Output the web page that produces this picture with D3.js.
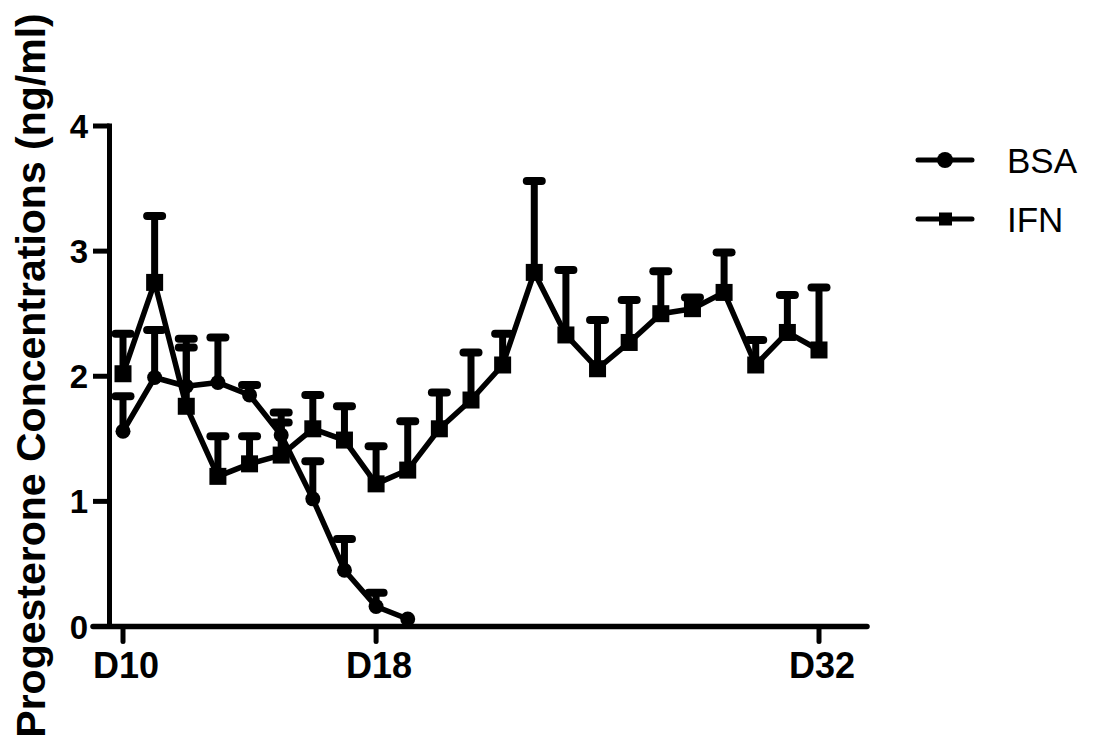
<!DOCTYPE html>
<html>
<head>
<meta charset="utf-8">
<script src="https://cdn.jsdelivr.net/npm/d3@7/dist/d3.min.js"></script>
<style>
  html, body { margin: 0; padding: 0; background: #fff; }
  svg { display: block; font-family: "Liberation Sans", Arial, sans-serif; }
</style>
</head>
<body>
<svg id="chart" width="1098" height="747"></svg>
<script>
// ---- data ----
const bsaDays  = [10, 11, 12, 13, 14, 15, 16, 17, 18, 19];
const bsaMean  = [1.56, 1.99, 1.92, 1.95, 1.85, 1.53, 1.02, 0.45, 0.16, 0.06];
const bsaUpper = [1.84, 2.37, 2.23, 2.31, 1.93, 1.71, 1.32, 0.70, 0.27, null];

const ifnDays  = [10, 11, 12, 13, 14, 15, 16, 17, 18, 19, 20, 21, 22, 23, 24, 25, 26, 27, 28, 29, 30, 31, 32];
const ifnMean  = [2.02, 2.75, 1.76, 1.20, 1.30, 1.37, 1.58, 1.49, 1.14, 1.25, 1.58, 1.81, 2.09, 2.83, 2.33, 2.06, 2.27, 2.50, 2.54, 2.67, 2.09, 2.35, 2.21];
const ifnUpper = [2.34, 3.28, 2.30, 1.52, 1.52, 1.63, 1.85, 1.76, 1.44, 1.64, 1.87, 2.19, 2.34, 3.56, 2.85, 2.45, 2.61, 2.84, 2.63, 2.99, 2.29, 2.65, 2.71];

const xTickValues = [10, 18, 32];
const xTickLabels = ["D10", "D18", "D32"];
const yTickValues = [0, 1, 2, 3, 4];
const seriesNames = ["BSA", "IFN"];
const yTitle = "Progesterone Concentrations (ng/ml)";

// ---- scales ----
const svg = d3.select("#chart");
const x = d3.scaleLinear().domain([10, 32]).range([123, 819]);
const y = d3.scaleLinear().domain([0, 4]).range([626.5, 126]);

const bsa = bsaDays.map((d, i) => ({ d, m: bsaMean[i], u: bsaUpper[i] }));
const ifn = ifnDays.map((d, i) => ({ d, m: ifnMean[i], u: ifnUpper[i] }));

const ink = "#000";

// ---- axes ----
const axisX0 = 93, axisX1 = 867, yAxisX = 109.5;

svg.append("line").attr("x1", yAxisX).attr("x2", yAxisX)
  .attr("y1", y(4) - 2.5).attr("y2", y(0))
  .attr("stroke", ink).attr("stroke-width", 5);
const yAxisG = svg.append("g");
yAxisG.selectAll("line.yt").data(yTickValues).enter().append("line")
  .attr("x1", axisX0).attr("x2", yAxisX)
  .attr("y1", d => y(d)).attr("y2", d => y(d))
  .attr("stroke", ink).attr("stroke-width", 5);
yAxisG.selectAll("text").data(yTickValues).enter().append("text")
  .attr("x", 88).attr("y", d => y(d) + 12)
  .attr("text-anchor", "end")
  .attr("font-size", 33).attr("font-weight", "bold")
  .text(d => d);

svg.append("line").attr("x1", axisX0).attr("x2", axisX1)
  .attr("y1", y(0)).attr("y2", y(0))
  .attr("stroke", ink).attr("stroke-width", 5.5).attr("stroke-linecap", "round");
const xAxisG = svg.append("g");
xAxisG.selectAll("line").data(xTickValues).enter().append("line")
  .attr("x1", d => x(d)).attr("x2", d => x(d))
  .attr("y1", y(0)).attr("y2", y(0) + 15)
  .attr("stroke", ink).attr("stroke-width", 5).attr("stroke-linecap", "round");
xAxisG.selectAll("text").data(xTickValues).enter().append("text")
  .attr("x", d => x(d) + 3).attr("y", 678)
  .attr("text-anchor", "middle")
  .attr("font-size", 36).attr("font-weight", "bold")
  .text((d, i) => xTickLabels[i]);

svg.append("text")
  .attr("transform", "translate(45,375.5) rotate(-90)")
  .attr("text-anchor", "middle")
  .attr("font-size", 41).attr("font-weight", "bold")
  .text(yTitle);

// ---- series ----
const line = d3.line().x(p => x(p.d)).y(p => y(p.m));

function drawErrors(data) {
  const g = svg.append("g");
  const e = data.filter(p => p.u != null);
  g.selectAll("line.stem").data(e).enter().append("line")
    .attr("x1", p => x(p.d)).attr("x2", p => x(p.d))
    .attr("y1", p => y(p.m)).attr("y2", p => y(p.u))
    .attr("stroke", ink).attr("stroke-width", 7);
  g.selectAll("line.cap").data(e).enter().append("line")
    .attr("x1", p => x(p.d) - 7.5).attr("x2", p => x(p.d) + 7.5)
    .attr("y1", p => y(p.u)).attr("y2", p => y(p.u))
    .attr("stroke", ink).attr("stroke-width", 8).attr("stroke-linecap", "round");
}

svg.append("path").datum(bsa).attr("d", line)
  .attr("fill", "none").attr("stroke", ink).attr("stroke-width", 5.5).attr("stroke-linejoin", "round");
svg.append("path").datum(ifn).attr("d", line)
  .attr("fill", "none").attr("stroke", ink).attr("stroke-width", 5.5).attr("stroke-linejoin", "round");

drawErrors(bsa);
drawErrors(ifn);

svg.append("g").selectAll("circle").data(bsa).enter().append("circle")
  .attr("cx", p => x(p.d)).attr("cy", p => y(p.m)).attr("r", 7.5).attr("fill", ink);
svg.append("g").selectAll("rect").data(ifn).enter().append("rect")
  .attr("x", p => x(p.d) - 8.5).attr("y", p => y(p.m) - 8.5)
  .attr("width", 17).attr("height", 17).attr("fill", ink);

// ---- legend ----
const legY = [160, 219];
const leg = svg.append("g");
seriesNames.forEach((name, i) => {
  leg.append("line").attr("x1", 918).attr("x2", 972)
    .attr("y1", legY[i]).attr("y2", legY[i])
    .attr("stroke", ink).attr("stroke-width", 5).attr("stroke-linecap", "round");
  if (i === 0) {
    leg.append("circle").attr("cx", 945).attr("cy", legY[i]).attr("r", 8).attr("fill", ink);
  } else {
    leg.append("rect").attr("x", 939).attr("y", legY[i] - 6.5).attr("width", 13).attr("height", 13).attr("fill", ink);
  }
  leg.append("text").attr("x", 1007).attr("y", legY[i] + 12.5)
    .attr("font-size", 35).text(name);
});
</script>
</body>
</html>
